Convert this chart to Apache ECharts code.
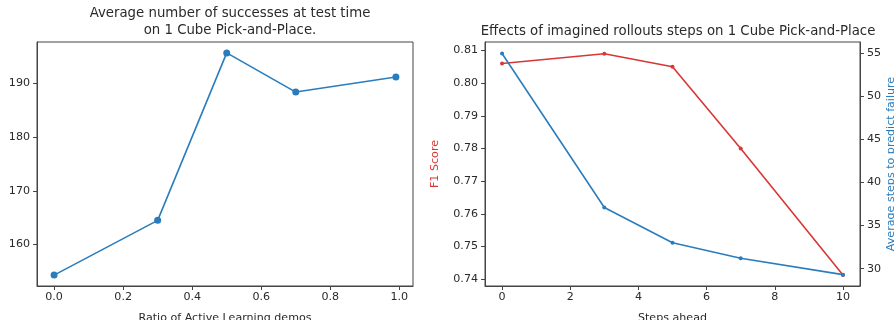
<!DOCTYPE html>
<html>
<head>
<meta charset="utf-8">
<script src="https://cdn.jsdelivr.net/npm/echarts@6/dist/echarts.min.js"></script>
<style>
  html, body { margin: 0; padding: 0; background: #fff; }
  #chart { width: 894px; height: 320px; }
</style>
</head>
<body>
<div id="chart"></div>
<script>
// left plot
const ratios = [0, 0.3, 0.5, 0.7, 0.99]
const successes = [154.3, 164.5, 195.7, 188.4, 191.2]
const ratioTicks = [0, 0.2, 0.4, 0.6, 0.8, 1.0]
const successTicks = [160, 170, 180, 190]

// right plot
const steps = [0, 3, 5, 7, 10]
const f1 = [0.806, 0.809, 0.805, 0.780, 0.7413]
const avgSteps = [55.0, 37.1, 33.0, 31.2, 29.3]
const stepTicks = [0, 2, 4, 6, 8, 10]
const f1Ticks = [0.74, 0.75, 0.76, 0.77, 0.78, 0.79, 0.80, 0.81]
const avgTicks = [30, 35, 40, 45, 50, 55]

const FONT = 'DejaVu Sans'
const TXT = '#2a2a2a'
const RED = '#d93636'
const BLUE = '#2a7dbd'
const SPINE = '#444'

const pairs = (xs, ys) => xs.map((x, i) => [x, ys[i]])

const tick = (vals) => ({ show: true, inside: false, length: 4, customValues: vals, lineStyle: { color: SPINE } })
const label = (vals, fmt, margin) => ({
  show: true, customValues: vals, formatter: fmt, margin: margin,
  color: TXT, fontFamily: FONT, fontSize: 11.1
})

const chart = echarts.init(document.getElementById('chart'), null, { renderer: 'canvas' })
chart.setOption({
  animation: false,
  backgroundColor: '#fff',
  title: [
    {
      text: 'Average number of successes at test time\non 1 Cube Pick-and-Place.',
      left: 225, top: 0, textAlign: 'center',
      textStyle: { fontFamily: FONT, fontSize: 13.3, fontWeight: 'normal', color: TXT, lineHeight: 17 }
    },
    {
      text: 'Effects of imagined rollouts steps on 1 Cube Pick-and-Place',
      left: 673, top: 18, textAlign: 'center',
      textStyle: { fontFamily: FONT, fontSize: 13.3, fontWeight: 'normal', color: TXT, lineHeight: 17 }
    }
  ],
  grid: [
    { left: 37, top: 42, width: 376, height: 244, outerBoundsMode: 'none', show: true, borderColor: SPINE, borderWidth: 1, backgroundColor: '#fff' },
    { left: 485, top: 42, width: 375, height: 244, outerBoundsMode: 'none', show: true, borderColor: SPINE, borderWidth: 1, backgroundColor: '#fff' }
  ],
  xAxis: [
    {
      type: 'value', gridIndex: 0, min: -0.0495, max: 1.0395,
      name: 'Ratio of Active Learning demos', nameLocation: 'middle', nameGap: 27,
      nameTextStyle: { fontFamily: FONT, fontSize: 11.1, color: TXT },
      axisLine: { show: true, onZero: false, lineStyle: { color: SPINE } },
      axisTick: tick(ratioTicks),
      axisLabel: label(ratioTicks, v => v.toFixed(1), 6),
      splitLine: { show: false }
    },
    {
      type: 'value', gridIndex: 1, min: -0.5, max: 10.5,
      name: 'Steps ahead', nameLocation: 'middle', nameGap: 27,
      nameTextStyle: { fontFamily: FONT, fontSize: 11.1, color: TXT },
      axisLine: { show: true, onZero: false, lineStyle: { color: SPINE } },
      axisTick: tick(stepTicks),
      axisLabel: label(stepTicks, v => String(v), 6),
      splitLine: { show: false }
    }
  ],
  yAxis: [
    {
      type: 'value', gridIndex: 0, min: 152.27, max: 197.73,
      axisLine: { show: true, onZero: false, lineStyle: { color: SPINE } },
      axisTick: tick(successTicks),
      axisLabel: label(successTicks, v => String(v), 7),
      splitLine: { show: false }
    },
    {
      type: 'value', gridIndex: 1, position: 'left', min: 0.7379, max: 0.8126,
      name: 'F1 Score', nameLocation: 'middle', nameGap: 44,
      nameTextStyle: { fontFamily: FONT, fontSize: 11.1, color: RED },
      axisLine: { show: true, onZero: false, lineStyle: { color: SPINE } },
      axisTick: tick(f1Ticks),
      axisLabel: label(f1Ticks, v => v.toFixed(2), 7),
      splitLine: { show: false }
    },
    {
      type: 'value', gridIndex: 1, position: 'right', min: 27.98, max: 56.33,
      name: 'Average steps to predict failure', nameLocation: 'middle', nameGap: 26, nameRotate: 90,
      nameTextStyle: { fontFamily: FONT, fontSize: 11.1, color: BLUE },
      axisLine: { show: true, onZero: false, lineStyle: { color: SPINE } },
      axisTick: tick(avgTicks),
      axisLabel: label(avgTicks, v => String(v), 7),
      splitLine: { show: false }
    }
  ],
  series: [
    {
      type: 'line', xAxisIndex: 0, yAxisIndex: 0,
      data: pairs(ratios, successes),
      symbol: 'circle', symbolSize: 7,
      lineStyle: { color: BLUE, width: 1.6 },
      itemStyle: { color: BLUE }
    },
    {
      type: 'line', xAxisIndex: 1, yAxisIndex: 1,
      data: pairs(steps, f1),
      symbol: 'circle', symbolSize: 4,
      lineStyle: { color: RED, width: 1.6 },
      itemStyle: { color: RED }
    },
    {
      type: 'line', xAxisIndex: 1, yAxisIndex: 2,
      data: pairs(steps, avgSteps),
      symbol: 'circle', symbolSize: 4,
      lineStyle: { color: BLUE, width: 1.6 },
      itemStyle: { color: BLUE }
    }
  ]
})
</script>
</body>
</html>
